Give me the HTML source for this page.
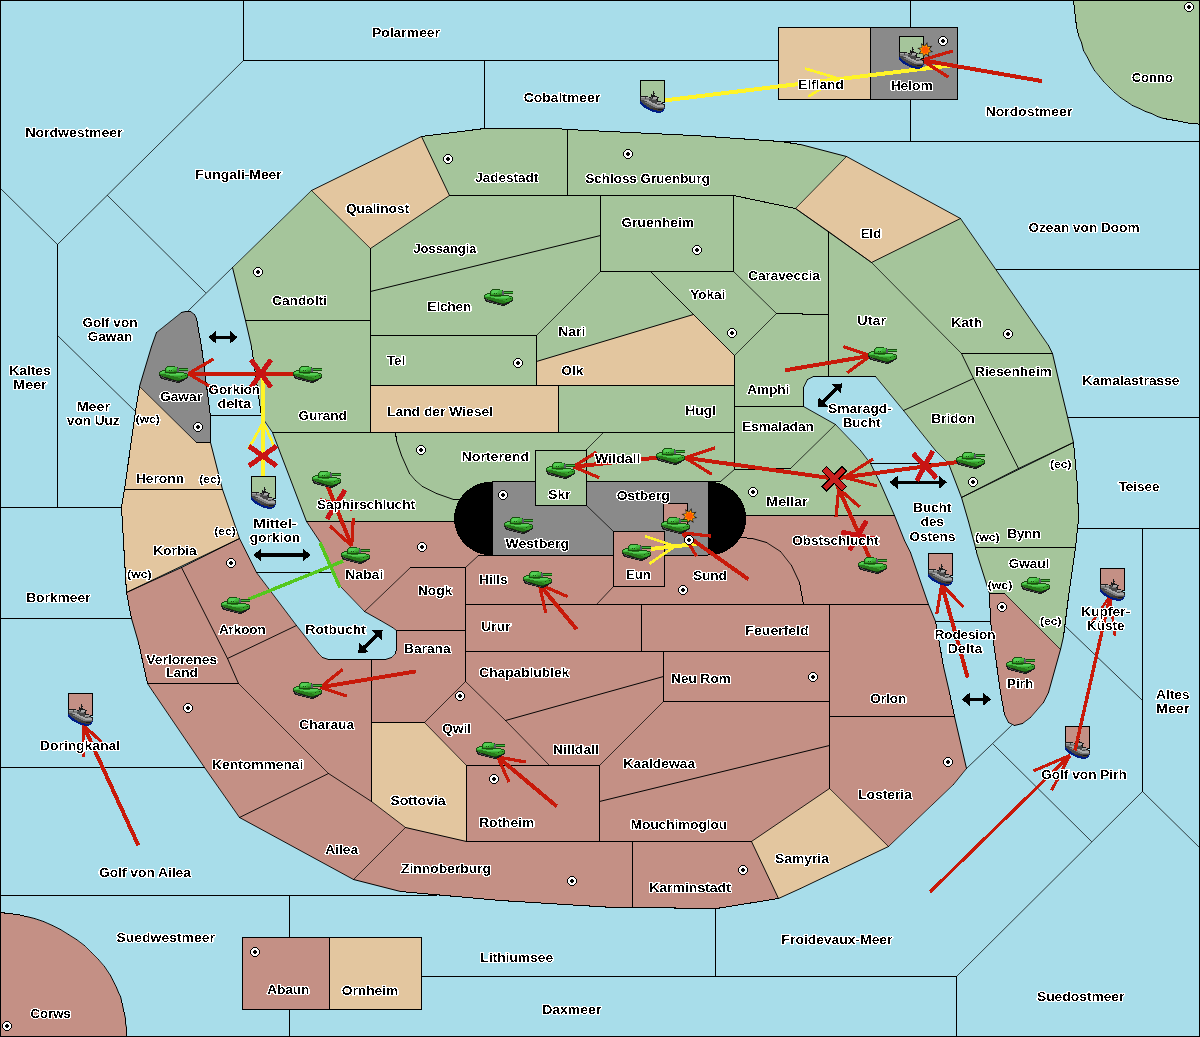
<!DOCTYPE html><html><head><meta charset="utf-8"><title>Map</title><style>html,body{margin:0;padding:0;background:#A8DDEA}svg{display:block}
.t{font-family:"Liberation Sans",sans-serif;font-weight:bold;font-size:12px;fill:#000;stroke:#fff;stroke-width:2.2px;stroke-linejoin:round;paint-order:stroke fill;text-anchor:middle}
.s{font-size:10px}
</style></head><body>
<svg width="1200" height="1037" viewBox="0 0 1200 1037">
<defs>
<g id="tank" shape-rendering="crispEdges"><path fill="#184d0f" d="M8,0h8v1h-8zM7,1h1v1h-1zM18,1h1v1h-1zM6,2h1v1h-1zM20,2h9v1h-9zM6,3h1v1h-1zM3,4h4v1h-4zM10,4h1v1h-1zM12,4h1v1h-1zM20,4h9v1h-9zM1,5h2v1h-2zM6,5h1v1h-1zM0,6h1v1h-1zM6,6h19v1h-19zM0,7h1v1h-1zM25,7h3v1h-3zM0,8h1v1h-1zM28,8h1v1h-1zM26,9h1v1h-1zM28,9h1v1h-1zM22,10h1v1h-1zM28,10h1v1h-1zM7,11h2v1h-2zM27,11h1v1h-1zM10,12h2v1h-2zM25,12h1v1h-1zM13,13h2v1h-2zM22,13h1v1h-1zM17,14h4v1h-4z"/><path fill="#41b93f" d="M8,1h1v1h-1zM15,1h3v1h-3zM7,2h1v1h-1zM14,2h4v1h-4zM7,3h1v1h-1zM13,3h4v1h-4zM20,3h9v1h-9zM7,4h3v1h-3zM11,4h1v1h-1zM13,4h1v1h-1zM1,6h1v1h-1zM5,6h1v1h-1zM1,7h9v1h-9zM7,8h3v1h-3zM24,8h4v1h-4zM11,9h12v1h-12z"/><path fill="#56cf56" d="M9,1h6v1h-6zM8,2h6v1h-6zM8,3h5v1h-5zM3,5h3v1h-3zM2,6h3v1h-3zM17,7h8v1h-8zM10,8h14v1h-14z"/><path fill="#5a5866" d="M18,2h2v1h-2zM18,3h2v1h-2zM18,4h2v1h-2zM18,5h2v1h-2z"/><path fill="#339c28" d="M17,3h1v1h-1zM14,4h4v1h-4zM7,5h8v1h-8zM23,9h3v1h-3zM27,9h1v1h-1zM15,10h7v1h-7zM23,10h5v1h-5zM19,11h8v1h-8zM21,12h4v1h-4z"/><path fill="#28791c" d="M15,5h3v1h-3zM10,7h7v1h-7zM1,8h6v1h-6zM2,9h9v1h-9zM4,10h11v1h-11zM9,11h10v1h-10zM12,12h9v1h-9zM15,13h7v1h-7z"/><path fill="#1a1a1a" d="M0,9h2v1h-2zM1,10h1v1h-1zM3,10h1v1h-1zM1,11h2v1h-2zM5,11h2v1h-2zM28,11h1v1h-1zM2,12h3v1h-3zM7,12h3v1h-3zM26,12h2v1h-2zM5,13h3v1h-3zM10,13h3v1h-3zM23,13h3v1h-3zM9,14h3v1h-3zM14,14h3v1h-3zM21,14h4v1h-4zM13,15h3v1h-3zM18,15h5v1h-5zM17,16h4v1h-4z"/><path fill="#4c4c4c" d="M2,10h1v1h-1zM3,11h2v1h-2zM5,12h2v1h-2zM8,13h2v1h-2zM12,14h2v1h-2zM16,15h2v1h-2z"/></g>
<g id="ship"><g transform="translate(0,11)"><g id="shipx" shape-rendering="crispEdges"><path fill="#1a1a1a" d="M13,0h1v1h-1zM13,1h1v1h-1zM13,2h2v1h-2zM11,3h1v1h-1zM13,3h1v1h-1zM11,4h4v1h-4zM0,5h8v1h-8zM11,5h6v1h-6zM0,6h1v1h-1zM9,6h2v1h-2zM12,6h1v1h-1zM17,6h2v1h-2zM0,7h1v1h-1zM17,7h1v1h-1zM0,8h1v1h-1zM16,8h2v1h-2zM0,9h1v1h-1zM17,9h1v1h-1zM17,10h4v1h-4zM22,11h1v1h-1zM21,12h2v1h-2zM23,13h2v1h-2zM24,14h1v1h-1zM24,15h1v1h-1zM18,18h5v1h-5z"/><path fill="#a8a8a8" d="M1,6h4v1h-4zM6,6h3v1h-3zM13,6h4v1h-4zM13,7h4v1h-4zM5,9h4v1h-4zM7,10h4v1h-4zM9,11h3v1h-3zM17,11h5v1h-5zM11,12h4v1h-4zM17,12h1v1h-1zM13,13h4v1h-4zM15,14h9v1h-9zM17,15h7v1h-7z"/><path fill="#494949" d="M5,6h1v1h-1zM5,7h1v1h-1zM10,7h3v1h-3zM9,8h3v1h-3zM1,9h3v1h-3zM9,9h8v1h-8zM1,10h6v1h-6zM11,10h6v1h-6zM2,11h3v1h-3zM12,11h5v1h-5zM3,12h4v1h-4zM15,12h2v1h-2zM4,13h5v1h-5zM17,13h3v1h-3zM6,14h5v1h-5zM7,15h6v1h-6zM9,16h6v1h-6zM24,16h1v1h-1zM17,17h7v1h-7z"/><path fill="#7e7e7e" d="M11,6h1v1h-1zM1,7h4v1h-4zM6,7h4v1h-4zM1,8h8v1h-8zM12,8h4v1h-4zM4,9h1v1h-1zM5,11h4v1h-4zM7,12h4v1h-4zM18,12h3v1h-3zM9,13h4v1h-4zM20,13h3v1h-3zM11,14h4v1h-4zM13,15h4v1h-4zM15,16h9v1h-9z"/><path fill="#001c84" d="M0,10h1v1h-1zM0,11h2v1h-2zM0,12h3v1h-3zM1,13h3v1h-3zM2,14h4v1h-4zM3,15h4v1h-4zM4,16h5v1h-5zM6,17h4v1h-4zM24,17h1v1h-1zM8,18h5v1h-5zM23,18h1v1h-1zM10,19h7v1h-7zM22,19h2v1h-2zM12,20h11v1h-11zM16,21h5v1h-5z"/><path fill="#40382f" d="M10,17h7v1h-7zM13,18h5v1h-5zM17,19h5v1h-5z"/></g></g></g>
<g id="sc" shape-rendering="crispEdges"><path fill="#000" d="M3,0h4v1h-4zM2,1h1v1h-1zM7,1h1v1h-1zM1,2h1v1h-1zM8,2h1v1h-1zM0,3h1v1h-1zM4,3h2v1h-2zM9,3h1v1h-1zM0,4h1v1h-1zM3,4h4v1h-4zM9,4h1v1h-1zM0,5h1v1h-1zM3,5h4v1h-4zM9,5h1v1h-1zM0,6h1v1h-1zM4,6h2v1h-2zM9,6h1v1h-1zM1,7h1v1h-1zM8,7h1v1h-1zM2,8h1v1h-1zM7,8h1v1h-1zM3,9h4v1h-4z"/><path fill="#fff" d="M3,1h4v1h-4zM2,2h6v1h-6zM1,3h3v1h-3zM6,3h3v1h-3zM1,4h2v1h-2zM7,4h2v1h-2zM1,5h2v1h-2zM7,5h2v1h-2zM1,6h3v1h-3zM6,6h3v1h-3zM2,7h6v1h-6zM3,8h4v1h-4z"/></g>
<g id="boom"><polygon points="2.1,-8.0 2.5,-3.4 7.1,-4.2 4.2,-0.6 8.0,2.1 3.4,2.5 4.2,7.1 0.6,4.2 -2.1,8.0 -2.5,3.4 -7.1,4.2 -4.2,0.6 -8.0,-2.1 -3.4,-2.5 -4.2,-7.1 -0.6,-4.2" fill="#111"/><polygon points="1.5,-6.0 2.2,-2.9 5.3,-3.2 3.6,-0.5 6.0,1.5 2.9,2.2 3.2,5.3 0.5,3.6 -1.5,6.0 -2.2,2.9 -5.3,3.2 -3.6,0.5 -6.0,-1.5 -2.9,-2.2 -3.2,-5.3 -0.5,-3.6" fill="#FFA200"/><polygon points="2.6,-3.8 2.7,-1.7 4.5,-0.8 3.1,0.7 3.8,2.6 1.7,2.7 0.8,4.5 -0.7,3.1 -2.6,3.8 -2.7,1.7 -4.5,0.8 -3.1,-0.7 -3.8,-2.6 -1.7,-2.7 -0.8,-4.5 0.7,-3.1" fill="#FF5A00"/></g>
<filter id="crisp" x="0" y="0" width="1200" height="1037" filterUnits="userSpaceOnUse" color-interpolation-filters="sRGB"><feComponentTransfer><feFuncR type="discrete" tableValues="0 0 0 0 1 1 1 1 1"/><feFuncG type="discrete" tableValues="0 0 0 0 1 1 1 1 1"/><feFuncB type="discrete" tableValues="0 0 0 0 1 1 1 1 1"/><feFuncA type="discrete" tableValues="0 1"/></feComponentTransfer></filter>
</defs>
<rect width="1200" height="1037" fill="#A8DDEA"/>
<g shape-rendering="crispEdges" stroke="none">
<polygon points="1073.5,0.0 1074.1,9.4 1075.1,18.4 1076.7,26.9 1078.7,35.1 1081.1,42.8 1083.9,50.1 1087.2,57.1 1090.8,63.8 1094.9,70.0 1099.2,76.0 1104.0,81.7 1109.0,87.1 1114.4,92.2 1120.0,97.0 1126.4,101.3 1132.8,105.1 1139.2,108.4 1145.5,111.4 1151.7,113.9 1157.8,116.2 1163.8,118.0 1169.6,119.6 1175.2,120.9 1180.6,122.0 1185.9,122.8 1190.8,123.5 1195.6,124.0 1200.0,124.3 1200.0,0.0" fill="#A5C59B"/>
<polygon points="0.0,912.5 8.6,913.3 17.4,914.7 26.2,916.5 34.9,919.0 43.6,922.0 52.2,925.6 60.6,929.7 68.8,934.4 76.7,939.7 84.3,945.6 91.4,952.0 98.1,959.1 104.3,966.7 110.0,975.0 112.5,979.3 114.7,983.6 116.7,987.9 118.4,992.2 120.0,996.5 121.4,1000.9 122.6,1005.2 123.6,1009.7 124.5,1014.1 125.2,1018.6 125.7,1023.1 126.2,1027.7 126.5,1032.3 126.7,1037.0 0.0,1037.0" fill="#C49085"/>
<polygon points="311.5,190.5 421.5,136.5 449.5,195.5 370.5,248.5" fill="#E3C69F"/>
<polygon points="311.5,190.5 370.5,248.5 370.5,320.5 245.5,320.5 232.5,267.5" fill="#A5C59B"/>
<polygon points="421.5,136.5 484.5,128.5 556.5,128.5 567.5,129.5 567.5,195.5 449.5,195.5" fill="#A5C59B"/>
<polygon points="567.5,129.5 693.5,135.5 780.5,141.5 800.5,144.5 846.5,156.5 795.5,208.5 733.5,195.5 567.5,195.5" fill="#A5C59B"/>
<polygon points="795.5,208.5 846.5,156.5 960.5,218.5 871.5,262.5" fill="#E3C69F"/>
<polygon points="449.5,195.5 600.5,195.5 600.5,235.5 370.5,291.5 370.5,248.5" fill="#A5C59B"/>
<polygon points="600.5,195.5 733.5,195.5 733.5,271.5 600.5,271.5" fill="#A5C59B"/>
<polygon points="370.5,291.5 600.5,235.5 600.5,271.5 536.5,335.5 370.5,335.5" fill="#A5C59B"/>
<polygon points="370.5,335.5 536.5,335.5 536.5,385.5 370.5,385.5" fill="#A5C59B"/>
<polygon points="536.5,335.5 600.5,271.5 650.5,271.5 693.5,314.5 536.5,361.5" fill="#A5C59B"/>
<polygon points="536.5,361.5 693.5,314.5 734.5,355.5 734.5,385.5 536.5,385.5" fill="#E3C69F"/>
<polygon points="650.5,271.5 733.5,271.5 776.5,313.5 734.5,355.5" fill="#A5C59B"/>
<polygon points="733.5,195.5 795.5,208.5 828.5,231.5 828.5,314.5 776.5,313.5 733.5,271.5" fill="#A5C59B"/>
<polygon points="828.5,231.5 871.5,262.5 961.5,353.5 973.5,378.5 903.5,410.5 875.5,376.5 828.5,376.5" fill="#A5C59B"/>
<polygon points="734.5,355.5 776.5,313.5 828.5,314.5 828.5,376.5 813.5,376.5 807.5,379.5 803.5,387.5 803.5,406.5 734.5,406.5" fill="#A5C59B"/>
<polygon points="734.5,406.5 803.5,406.5 835.5,424.5 790.5,468.5 734.5,469.5" fill="#A5C59B"/>
<polygon points="734.5,469.5 790.5,468.5 835.5,424.5 860.5,450.5 870.5,463.5 880.5,483.5 894.5,515.5 700.5,515.5 700.5,481.5 720.5,481.5" fill="#A5C59B"/>
<polygon points="558.5,385.5 734.5,385.5 734.5,432.5 558.5,432.5" fill="#A5C59B"/>
<polygon points="370.5,385.5 558.5,385.5 558.5,432.5 370.5,432.5" fill="#E3C69F"/>
<polygon points="245.5,320.5 370.5,320.5 370.5,432.5 272.5,432.5 261.5,416.5 251.5,346.5" fill="#A5C59B"/>
<polygon points="395.5,432.5 603.5,432.5 586.5,449.5 586.5,450.5 535.5,450.5 535.5,481.5 500.5,481.5 500.5,500.5 453.5,499.5 436.5,493.5 422.5,486.5 415.5,480.5 409.5,473.5 401.5,455.5 396.5,440.5" fill="#A5C59B"/>
<polygon points="603.5,432.5 734.5,432.5 734.5,469.5 720.5,481.5 586.5,481.5 586.5,449.5" fill="#A5C59B"/>
<polygon points="272.5,432.5 395.5,432.5 396.5,440.5 401.5,455.5 409.5,473.5 415.5,480.5 422.5,486.5 436.5,493.5 453.5,499.5 500.5,500.5 500.5,521.5 306.5,521.5 290.5,479.5" fill="#A5C59B"/>
<polygon points="871.5,262.5 960.5,218.5 1048.5,345.5 1052.5,353.5 961.5,353.5" fill="#A5C59B"/>
<polygon points="961.5,353.5 1052.5,353.5 1058.5,379.5 1066.5,412.5 1073.5,442.5 1018.5,468.5 973.5,378.5" fill="#A5C59B"/>
<polygon points="903.5,410.5 973.5,378.5 1018.5,468.5 961.5,497.5 948.5,463.5 935.5,450.5" fill="#A5C59B"/>
<polygon points="961.5,497.5 1073.5,442.5 1077.5,486.5 1078.5,519.5 1075.5,547.5 975.5,547.5 968.5,521.5" fill="#A5C59B"/>
<polygon points="975.5,547.5 1075.5,547.5 1068.5,596.5 1063.5,636.5 1060.5,649.5 1004.5,593.5 989.5,593.5 976.5,552.5" fill="#A5C59B"/>
<polygon points="989.5,593.5 1004.5,593.5 1060.5,649.5 1048.5,692.5 1043.5,702.5 1030.5,717.5 1022.5,723.5 1014.5,725.5 1008.5,722.5 1004.5,714.5 1000.5,692.5 995.5,656.5 990.5,621.5" fill="#C49085"/>
<polygon points="181.5,312.5 185.5,311.5 190.5,311.5 194.5,314.5 196.5,318.5 201.5,346.5 210.5,416.5 210.5,442.5 196.5,442.5 139.5,386.5 151.5,346.5 156.5,332.5" fill="#8A8A8A"/>
<polygon points="139.5,386.5 196.5,442.5 210.5,442.5 222.5,489.5 124.5,489.5 135.5,411.5" fill="#E3C69F"/>
<polygon points="124.5,489.5 222.5,489.5 239.5,538.5 126.5,592.5 121.5,507.5" fill="#E3C69F"/>
<polygon points="126.5,592.5 181.5,567.5 227.5,658.5 238.5,683.5 147.5,683.5 138.5,642.5 131.5,618.5" fill="#C49085"/>
<polygon points="181.5,567.5 239.5,538.5 256.5,572.5 296.5,625.5 227.5,658.5" fill="#C49085"/>
<polygon points="147.5,683.5 238.5,683.5 328.5,773.5 239.5,817.5 204.5,767.5 153.5,692.5" fill="#C49085"/>
<polygon points="227.5,658.5 296.5,625.5 318.5,653.5 322.5,657.5 328.5,659.5 371.5,659.5 371.5,801.5 328.5,773.5 238.5,683.5" fill="#C49085"/>
<polygon points="239.5,817.5 328.5,773.5 371.5,801.5 405.5,827.5 353.5,879.5" fill="#C49085"/>
<polygon points="306.5,521.5 500.5,521.5 500.5,555.5 478.5,555.5 465.5,567.5 410.5,567.5 364.5,611.5 340.5,586.5 320.5,542.5" fill="#C49085"/>
<polygon points="410.5,567.5 465.5,567.5 465.5,630.5 396.5,630.5 392.5,627.5 380.5,620.5 364.5,611.5" fill="#C49085"/>
<polygon points="396.5,630.5 465.5,630.5 465.5,681.5 424.5,722.5 371.5,722.5 371.5,659.5 385.5,659.5 391.5,657.5 395.5,653.5 396.5,648.5" fill="#C49085"/>
<polygon points="465.5,567.5 478.5,555.5 613.5,555.5 613.5,586.5 596.5,604.5 465.5,604.5" fill="#C49085"/>
<polygon points="465.5,604.5 641.5,604.5 641.5,651.5 465.5,651.5" fill="#C49085"/>
<polygon points="465.5,651.5 663.5,651.5 663.5,676.5 505.5,720.5 465.5,681.5" fill="#C49085"/>
<polygon points="465.5,681.5 505.5,720.5 549.5,765.5 466.5,765.5 424.5,722.5" fill="#C49085"/>
<polygon points="505.5,720.5 663.5,676.5 663.5,701.5 599.5,765.5 549.5,765.5" fill="#C49085"/>
<polygon points="613.5,586.5 664.5,586.5 664.5,540.5 741.5,537.5 752.5,538.5 766.5,542.5 780.5,551.5 791.5,565.5 799.5,582.5 803.5,604.5 596.5,604.5" fill="#C49085"/>
<polygon points="700.5,515.5 894.5,515.5 904.5,540.5 910.5,552.5 928.5,604.5 803.5,604.5 799.5,582.5 791.5,565.5 780.5,551.5 766.5,542.5 752.5,538.5 741.5,537.5 700.5,537.5" fill="#C49085"/>
<polygon points="641.5,604.5 829.5,604.5 829.5,651.5 641.5,651.5" fill="#C49085"/>
<polygon points="663.5,651.5 829.5,651.5 829.5,701.5 663.5,701.5" fill="#C49085"/>
<polygon points="829.5,604.5 928.5,604.5 935.5,621.5 943.5,666.5 949.5,692.5 954.5,716.5 829.5,716.5" fill="#C49085"/>
<polygon points="829.5,716.5 954.5,716.5 966.5,768.5 953.5,784.5 888.5,846.5 829.5,788.5" fill="#C49085"/>
<polygon points="663.5,701.5 829.5,701.5 829.5,745.5 599.5,801.5 599.5,765.5" fill="#C49085"/>
<polygon points="599.5,801.5 829.5,745.5 829.5,788.5 751.5,841.5 599.5,841.5" fill="#C49085"/>
<polygon points="751.5,841.5 829.5,788.5 888.5,846.5 800.5,888.5 778.5,898.5" fill="#E3C69F"/>
<polygon points="632.5,841.5 751.5,841.5 778.5,898.5 716.5,908.5 632.5,907.5" fill="#C49085"/>
<polygon points="353.5,879.5 405.5,827.5 466.5,841.5 632.5,841.5 632.5,907.5 613.5,907.5 500.5,900.5 400.5,891.5" fill="#C49085"/>
<polygon points="466.5,765.5 599.5,765.5 599.5,841.5 466.5,841.5" fill="#C49085"/>
<polygon points="371.5,722.5 424.5,722.5 466.5,765.5 466.5,841.5 405.5,827.5 371.5,801.5" fill="#E3C69F"/>
<polygon points="778.5,27.5 870.5,27.5 870.5,99.5 778.5,99.5" fill="#E3C69F"/>
<polygon points="870.5,27.5 957.5,27.5 957.5,99.5 870.5,99.5" fill="#8A8A8A"/>
<polygon points="242.5,937.5 329.5,937.5 329.5,1009.5 242.5,1009.5" fill="#C49085"/>
<polygon points="329.5,937.5 421.5,937.5 421.5,1009.5 329.5,1009.5" fill="#E3C69F"/>
</g>
<g shape-rendering="crispEdges" stroke="#000" fill="none" stroke-linecap="square">
<path stroke-width="0.72" d="M107.5,195.5L205.5,292.5M956.5,976.5L1142.5,791.5M993.5,744.5L1091.5,841.5M536.5,335.5L600.5,271.5M650.5,271.5L693.5,314.5M693.5,314.5L734.5,355.5M734.5,355.5L776.5,313.5M650.5,271.5L734.5,355.5M586.5,449.5L603.5,432.5M935.5,450.5L948.5,463.5M1004.5,593.5L1060.5,649.5M238.5,683.5L328.5,773.5M318.5,653.5L322.5,657.5M353.5,879.5L405.5,827.5M424.5,722.5L465.5,681.5M391.5,657.5L395.5,653.5M599.5,765.5L663.5,701.5M1103.5,81.5L1109.5,87.5M1109.5,87.5L1114.5,92.5M84.5,945.5L91.5,952.5M91.5,952.5L98.5,959.5"/>
<path stroke-width="0.73" d="M57.5,244.5L243.5,60.5M0.5,188.5L57.5,244.5M57.5,335.5L135.5,411.5M187.5,311.5L232.5,267.5M1142.5,791.5L1200.5,848.5M311.5,190.5L370.5,248.5M232.5,267.5L311.5,190.5M795.5,208.5L846.5,156.5M733.5,271.5L776.5,313.5M871.5,262.5L961.5,353.5M790.5,468.5L835.5,424.5M139.5,386.5L196.5,442.5M465.5,681.5L505.5,720.5M505.5,720.5L549.5,765.5M424.5,722.5L466.5,765.5M829.5,788.5L888.5,846.5"/>
<path stroke-width="0.74" d="M1065.5,626.5L1142.5,700.5M966.5,768.5L1011.5,725.5M835.5,424.5L860.5,450.5M364.5,611.5L410.5,567.5M340.5,586.5L364.5,611.5M596.5,604.5L613.5,586.5M888.5,846.5L953.5,784.5"/>
<path stroke-width="0.75" d="M465.5,567.5L478.5,555.5"/>
<path stroke-width="0.77" d="M720.5,481.5L734.5,469.5M415.5,480.5L422.5,486.5M409.5,473.5L415.5,480.5M1030.5,717.5L1043.5,702.5M98.5,959.5L104.5,966.5"/>
<path stroke-width="0.78" d="M1094.5,70.5L1099.5,76.5M1114.5,92.5L1120.5,97.5"/>
<path stroke-width="0.79" d="M875.5,376.5L903.5,410.5M953.5,784.5L966.5,768.5"/>
<path stroke-width="0.8" d="M903.5,410.5L935.5,450.5M156.5,332.5L181.5,312.5M296.5,625.5L318.5,653.5M780.5,551.5L791.5,565.5M1099.5,76.5L1103.5,81.5"/>
<path stroke-width="0.81" d="M860.5,450.5L870.5,463.5M256.5,572.5L296.5,625.5M371.5,801.5L405.5,827.5"/>
<path stroke-width="0.82" d="M1022.5,723.5L1030.5,717.5M190.5,311.5L194.5,314.5M392.5,627.5L396.5,630.5M76.5,939.5L84.5,945.5"/>
<path stroke-width="0.83" d="M795.5,208.5L871.5,262.5M828.5,231.5L871.5,262.5"/>
<path stroke-width="0.84" d="M795.5,208.5L828.5,231.5M261.5,416.5L272.5,432.5M960.5,218.5L1048.5,345.5M204.5,767.5L239.5,817.5M153.5,692.5L204.5,767.5M751.5,841.5L829.5,788.5"/>
<path stroke-width="0.85" d="M370.5,248.5L449.5,195.5M147.5,683.5L153.5,692.5M328.5,773.5L371.5,801.5M306.5,521.5L320.5,542.5M1120.5,97.5L1126.5,101.5M1126.5,101.5L1132.5,105.5M104.5,966.5L110.5,975.5"/>
<path stroke-width="0.86" d="M766.5,542.5L780.5,551.5M60.5,929.5L68.5,934.5M68.5,934.5L76.5,939.5"/>
<path stroke-width="0.88" d="M380.5,620.5L392.5,627.5"/>
<path stroke-width="0.89" d="M803.5,406.5L835.5,424.5M364.5,611.5L380.5,620.5M1083.5,50.5L1087.5,57.5M1090.5,63.5L1094.5,70.5"/>
<path stroke-width="0.9" d="M846.5,156.5L960.5,218.5M239.5,817.5L353.5,879.5"/>
<path stroke-width="0.91" d="M871.5,262.5L960.5,218.5M807.5,379.5L813.5,376.5M803.5,387.5L807.5,379.5M870.5,463.5L880.5,483.5M422.5,486.5L436.5,493.5M1048.5,345.5L1052.5,353.5M973.5,378.5L1018.5,468.5M961.5,497.5L1018.5,468.5M1043.5,702.5L1048.5,692.5M1008.5,722.5L1014.5,725.5M1004.5,714.5L1008.5,722.5M194.5,314.5L196.5,318.5M181.5,567.5L227.5,658.5M181.5,567.5L239.5,538.5M239.5,538.5L256.5,572.5M239.5,817.5L328.5,773.5M904.5,540.5L910.5,552.5M1087.5,57.5L1090.5,63.5M1139.5,108.5L1145.5,111.5M1151.5,113.5L1157.5,116.5M52.5,925.5L60.5,929.5M110.5,975.5L112.5,979.5M112.5,979.5L114.5,983.5M114.5,983.5L116.5,987.5M118.5,992.5L120.5,996.5"/>
<path stroke-width="0.92" d="M311.5,190.5L421.5,136.5M421.5,136.5L449.5,195.5M961.5,353.5L973.5,378.5M1018.5,468.5L1073.5,442.5M961.5,497.5L1073.5,442.5M126.5,592.5L239.5,538.5M227.5,658.5L296.5,625.5M791.5,565.5L799.5,582.5M800.5,888.5L888.5,846.5M751.5,841.5L778.5,898.5"/>
<path stroke-width="0.93" d="M903.5,410.5L973.5,378.5M880.5,483.5L894.5,515.5M401.5,455.5L409.5,473.5M126.5,592.5L181.5,567.5M227.5,658.5L238.5,683.5M320.5,542.5L340.5,586.5M778.5,898.5L800.5,888.5M43.5,921.5L52.5,925.5"/>
<path stroke-width="0.94" d="M928.5,604.5L935.5,621.5M1078.5,35.5L1081.5,42.5M1132.5,105.5L1139.5,108.5"/>
<path stroke-width="0.95" d="M290.5,479.5L306.5,521.5M272.5,432.5L290.5,479.5M948.5,463.5L961.5,497.5M894.5,515.5L904.5,540.5M116.5,987.5L118.5,992.5"/>
<path stroke-width="0.96" d="M436.5,493.5L453.5,499.5M151.5,346.5L156.5,332.5M222.5,489.5L239.5,538.5M910.5,552.5L928.5,604.5"/>
<path stroke-width="0.97" d="M396.5,440.5L401.5,455.5M976.5,552.5L989.5,593.5M322.5,657.5L328.5,659.5M385.5,659.5L391.5,657.5M1145.5,111.5L1151.5,113.5M1157.5,116.5L1163.5,118.5M34.5,918.5L43.5,921.5"/>
<path stroke-width="0.98" d="M536.5,361.5L693.5,314.5M968.5,521.5L975.5,547.5M961.5,497.5L968.5,521.5M1048.5,692.5L1060.5,649.5M139.5,386.5L151.5,346.5M131.5,618.5L138.5,642.5M505.5,720.5L663.5,676.5M752.5,538.5L766.5,542.5"/>
<path stroke-width="0.99" d="M232.5,267.5L245.5,320.5M800.5,144.5L846.5,156.5M370.5,291.5L600.5,235.5M245.5,320.5L251.5,346.5M1052.5,353.5L1058.5,379.5M1058.5,379.5L1066.5,412.5M1066.5,412.5L1073.5,442.5M1060.5,649.5L1063.5,636.5M1014.5,725.5L1022.5,723.5M181.5,312.5L185.5,311.5M210.5,442.5L222.5,489.5M943.5,666.5L949.5,692.5M954.5,716.5L966.5,768.5M599.5,801.5L829.5,745.5M405.5,827.5L466.5,841.5M353.5,879.5L400.5,891.5M1081.5,42.5L1083.5,50.5M26.5,916.5L34.5,918.5M120.5,996.5L121.5,1000.5M122.5,1005.5L123.5,1009.5M124.5,1014.5L125.5,1018.5M125.5,1023.5L126.5,1027.5"/>
<path stroke-width="1" d="M733.5,195.5L795.5,208.5M975.5,547.5L976.5,552.5M1000.5,692.5L1004.5,714.5M196.5,318.5L201.5,346.5M138.5,642.5L147.5,683.5M126.5,592.5L131.5,618.5M395.5,653.5L396.5,648.5M799.5,582.5L803.5,604.5M935.5,621.5L943.5,666.5M949.5,692.5L954.5,716.5M1076.5,26.5L1078.5,35.5M1175.5,120.5L1180.5,121.5M1180.5,121.5L1185.5,122.5M1185.5,122.5L1190.5,123.5M1195.5,123.5L1200.5,124.5M17.5,914.5L26.5,916.5M121.5,1000.5L122.5,1005.5M123.5,1009.5L124.5,1014.5"/>
<path stroke-width="1.01" d="M421.5,136.5L484.5,128.5M780.5,141.5L800.5,144.5M251.5,346.5L261.5,416.5M395.5,432.5L396.5,440.5M1075.5,547.5L1078.5,519.5M1068.5,596.5L1075.5,547.5M1063.5,636.5L1068.5,596.5M995.5,656.5L1000.5,692.5M990.5,621.5L995.5,656.5M201.5,346.5L210.5,416.5M124.5,489.5L135.5,411.5M135.5,411.5L139.5,386.5M121.5,507.5L124.5,489.5M716.5,908.5L778.5,898.5M1073.5,0.5L1074.5,9.5M1074.5,9.5L1075.5,18.5M1075.5,18.5L1076.5,26.5M1163.5,118.5L1169.5,119.5M1169.5,119.5L1175.5,120.5M0.5,912.5L8.5,913.5M8.5,913.5L17.5,914.5"/>
<path stroke-width="1.02" d="M243.5,0.5L243.5,60.5M243.5,60.5L778.5,60.5M57.5,244.5L57.5,507.5M0.5,507.5L121.5,507.5M210.5,415.5L261.5,415.5M256.5,572.5L334.5,572.5M0.5,618.5L131.5,618.5M484.5,60.5L484.5,128.5M910.5,0.5L910.5,27.5M910.5,99.5L910.5,141.5M780.5,141.5L1200.5,141.5M996.5,269.5L1200.5,269.5M1068.5,417.5L1200.5,417.5M1078.5,528.5L1200.5,528.5M1142.5,528.5L1142.5,791.5M870.5,463.5L948.5,463.5M935.5,621.5L990.5,621.5M0.5,767.5L204.5,767.5M0.5,895.5L436.5,895.5M289.5,895.5L289.5,937.5M289.5,1009.5L289.5,1037.5M421.5,976.5L956.5,976.5M715.5,908.5L715.5,976.5M956.5,976.5L956.5,1037.5M370.5,248.5L370.5,320.5M245.5,320.5L370.5,320.5M484.5,128.5L556.5,128.5M556.5,128.5L567.5,129.5M567.5,129.5L567.5,195.5M449.5,195.5L567.5,195.5M567.5,129.5L693.5,135.5M693.5,135.5L780.5,141.5M567.5,195.5L733.5,195.5M449.5,195.5L600.5,195.5M600.5,195.5L600.5,235.5M370.5,248.5L370.5,291.5M600.5,195.5L733.5,195.5M733.5,195.5L733.5,271.5M600.5,271.5L733.5,271.5M600.5,195.5L600.5,271.5M600.5,235.5L600.5,271.5M370.5,335.5L536.5,335.5M370.5,291.5L370.5,335.5M536.5,335.5L536.5,385.5M370.5,385.5L536.5,385.5M370.5,335.5L370.5,385.5M600.5,271.5L650.5,271.5M536.5,335.5L536.5,361.5M734.5,355.5L734.5,385.5M536.5,385.5L734.5,385.5M536.5,361.5L536.5,385.5M650.5,271.5L733.5,271.5M828.5,231.5L828.5,314.5M776.5,313.5L828.5,314.5M828.5,376.5L875.5,376.5M828.5,231.5L828.5,376.5M828.5,314.5L828.5,376.5M813.5,376.5L828.5,376.5M803.5,387.5L803.5,406.5M734.5,406.5L803.5,406.5M734.5,355.5L734.5,406.5M734.5,469.5L790.5,468.5M734.5,406.5L734.5,469.5M700.5,515.5L894.5,515.5M700.5,481.5L700.5,515.5M700.5,481.5L720.5,481.5M558.5,385.5L734.5,385.5M734.5,385.5L734.5,432.5M558.5,432.5L734.5,432.5M558.5,385.5L558.5,432.5M370.5,385.5L558.5,385.5M370.5,432.5L558.5,432.5M370.5,385.5L370.5,432.5M370.5,320.5L370.5,432.5M272.5,432.5L370.5,432.5M395.5,432.5L603.5,432.5M586.5,449.5L586.5,450.5M535.5,450.5L586.5,450.5M535.5,450.5L535.5,481.5M500.5,481.5L535.5,481.5M500.5,481.5L500.5,500.5M453.5,499.5L500.5,500.5M603.5,432.5L734.5,432.5M734.5,432.5L734.5,469.5M586.5,481.5L720.5,481.5M586.5,449.5L586.5,481.5M272.5,432.5L395.5,432.5M500.5,500.5L500.5,521.5M306.5,521.5L500.5,521.5M961.5,353.5L1052.5,353.5M1073.5,442.5L1077.5,486.5M1077.5,486.5L1078.5,519.5M975.5,547.5L1075.5,547.5M989.5,593.5L1004.5,593.5M989.5,593.5L990.5,621.5M185.5,311.5L190.5,311.5M210.5,416.5L210.5,442.5M196.5,442.5L210.5,442.5M124.5,489.5L222.5,489.5M121.5,507.5L126.5,592.5M147.5,683.5L238.5,683.5M328.5,659.5L371.5,659.5M371.5,659.5L371.5,801.5M500.5,521.5L500.5,555.5M478.5,555.5L500.5,555.5M410.5,567.5L465.5,567.5M465.5,567.5L465.5,630.5M396.5,630.5L465.5,630.5M465.5,630.5L465.5,681.5M371.5,722.5L424.5,722.5M371.5,659.5L371.5,722.5M371.5,659.5L385.5,659.5M396.5,630.5L396.5,648.5M478.5,555.5L613.5,555.5M613.5,555.5L613.5,586.5M465.5,604.5L596.5,604.5M465.5,567.5L465.5,604.5M465.5,604.5L641.5,604.5M641.5,604.5L641.5,651.5M465.5,651.5L641.5,651.5M465.5,604.5L465.5,651.5M465.5,651.5L663.5,651.5M663.5,651.5L663.5,676.5M465.5,651.5L465.5,681.5M466.5,765.5L549.5,765.5M663.5,676.5L663.5,701.5M549.5,765.5L599.5,765.5M613.5,586.5L664.5,586.5M664.5,540.5L664.5,586.5M664.5,540.5L741.5,537.5M741.5,537.5L752.5,538.5M596.5,604.5L803.5,604.5M803.5,604.5L928.5,604.5M700.5,537.5L741.5,537.5M700.5,515.5L700.5,537.5M641.5,604.5L829.5,604.5M829.5,604.5L829.5,651.5M641.5,651.5L829.5,651.5M663.5,651.5L829.5,651.5M829.5,651.5L829.5,701.5M663.5,701.5L829.5,701.5M663.5,651.5L663.5,701.5M829.5,604.5L928.5,604.5M829.5,716.5L954.5,716.5M829.5,604.5L829.5,716.5M829.5,716.5L829.5,788.5M829.5,701.5L829.5,745.5M599.5,765.5L599.5,801.5M829.5,745.5L829.5,788.5M599.5,841.5L751.5,841.5M599.5,801.5L599.5,841.5M632.5,841.5L751.5,841.5M632.5,907.5L716.5,908.5M632.5,841.5L632.5,907.5M466.5,841.5L632.5,841.5M613.5,907.5L632.5,907.5M500.5,900.5L613.5,907.5M400.5,891.5L500.5,900.5M466.5,765.5L599.5,765.5M599.5,765.5L599.5,841.5M466.5,841.5L599.5,841.5M466.5,765.5L466.5,841.5M371.5,722.5L371.5,801.5M778.5,27.5L870.5,27.5M870.5,27.5L870.5,99.5M778.5,99.5L870.5,99.5M778.5,27.5L778.5,99.5M870.5,27.5L957.5,27.5M957.5,27.5L957.5,99.5M870.5,99.5L957.5,99.5M242.5,937.5L329.5,937.5M329.5,937.5L329.5,1009.5M242.5,1009.5L329.5,1009.5M242.5,937.5L242.5,1009.5M329.5,937.5L421.5,937.5M421.5,937.5L421.5,1009.5M329.5,1009.5L421.5,1009.5M1190.5,123.5L1195.5,123.5M125.5,1018.5L125.5,1023.5M126.5,1027.5L126.5,1032.5M126.5,1032.5L126.5,1037.5M0.5,0.5L1199.5,0.5M1199.5,0.5L1199.5,1036.5M0.5,1036.5L1199.5,1036.5M0.5,0.5L0.5,1036.5"/>
</g>
<g shape-rendering="crispEdges" stroke="none">
<polygon points="492.5,481.5 488.5,481.7 484.5,482.3 480.6,483.3 476.9,484.7 473.3,486.5 469.9,488.6 466.8,491.0 464.0,493.7 461.4,496.8 459.2,500.0 457.4,503.5 456.0,507.1 454.9,510.8 454.3,514.6 454.1,518.5 454.3,522.4 454.9,526.2 456.0,529.9 457.4,533.5 459.2,537.0 461.4,540.2 464.0,543.3 466.8,546.0 469.9,548.4 473.3,550.5 476.9,552.3 480.6,553.7 484.5,554.7 488.5,555.3 492.5,555.5" fill="#000"/>
<polygon points="707.5,481.5 711.5,481.7 715.5,482.3 719.4,483.3 723.2,484.7 726.8,486.5 730.2,488.6 733.3,491.0 736.2,493.7 738.7,496.8 740.9,500.0 742.8,503.5 744.2,507.1 745.3,510.8 745.9,514.6 746.1,518.5 745.9,522.4 745.3,526.2 744.2,529.9 742.8,533.5 740.9,537.0 738.7,540.2 736.2,543.3 733.3,546.0 730.2,548.4 726.8,550.5 723.2,552.3 719.4,553.7 715.5,554.7 711.5,555.3 707.5,555.5" fill="#000"/>
<rect x="492.5" y="481.5" width="215" height="74" fill="#8A8A8A"/>
<rect x="535.5" y="450.5" width="51" height="55" fill="#A5C59B"/>
<rect x="613.5" y="531.5" width="51" height="55" fill="#C49085"/>
</g>
<g shape-rendering="crispEdges" stroke="#000" fill="none" stroke-linecap="square">
<path stroke-width="0.73" d="M586.5,505.5L613.5,531.5"/>
<path stroke-width="1.02" d="M492.5,481.5L535.5,481.5M586.5,481.5L707.5,481.5M492.5,555.5L613.5,555.5M664.5,555.5L707.5,555.5M535.5,450.5L586.5,450.5M586.5,450.5L586.5,505.5M535.5,505.5L586.5,505.5M535.5,450.5L535.5,505.5M613.5,531.5L664.5,531.5M664.5,531.5L664.5,586.5M613.5,586.5L664.5,586.5M613.5,531.5L613.5,586.5"/>
</g>
<g shape-rendering="crispEdges">
<line x1="216.3" y1="337.3" x2="229.7" y2="337.3" stroke="#000" stroke-width="3.6"/><polygon points="208.3,337.3 216.3,343.9 216.3,330.7" fill="#000"/><polygon points="237.7,337.3 229.7,343.9 229.7,330.7" fill="#000"/>
<line x1="261.3" y1="555.0" x2="302.7" y2="555.0" stroke="#000" stroke-width="3.6"/><polygon points="253.3,555.0 261.3,561.6 261.3,548.4" fill="#000"/><polygon points="310.7,555.0 302.7,561.6 302.7,548.4" fill="#000"/>
<line x1="363.9" y1="647.6" x2="376.9" y2="635.1" stroke="#000" stroke-width="3.6"/><polygon points="358.1,653.1 368.4,652.3 359.3,642.8" fill="#000"/><polygon points="382.7,629.6 381.5,639.9 372.4,630.4" fill="#000"/>
<line x1="823.3" y1="401.8" x2="836.3" y2="389.0" stroke="#000" stroke-width="3.6"/><polygon points="817.6,407.4 827.9,406.5 818.7,397.1" fill="#000"/><polygon points="842.0,383.4 840.9,393.7 831.7,384.3" fill="#000"/>
<line x1="897.5" y1="482.3" x2="938.9" y2="482.3" stroke="#000" stroke-width="3.6"/><polygon points="889.5,482.3 897.5,488.9 897.5,475.7" fill="#000"/><polygon points="946.9,482.3 938.9,488.9 938.9,475.7" fill="#000"/>
<line x1="969.7" y1="699.3" x2="983.0" y2="699.3" stroke="#000" stroke-width="3.6"/><polygon points="961.7,699.3 969.7,705.9 969.7,692.7" fill="#000"/><polygon points="991.0,699.3 983.0,705.9 983.0,692.7" fill="#000"/>
<line x1="664.0" y1="100.5" x2="950.0" y2="65.5" stroke="#FFF428" stroke-width="4.0"/><line x1="837.7" y1="78.3" x2="805.0" y2="68.5" stroke="#FFF428" stroke-width="2.7"/><line x1="837.7" y1="78.3" x2="808.5" y2="96.5" stroke="#FFF428" stroke-width="2.7"/>
<line x1="263.3" y1="476.0" x2="263.3" y2="373.0" stroke="#FFF428" stroke-width="4.0"/><line x1="263.3" y1="422.0" x2="248.3" y2="449.3" stroke="#FFF428" stroke-width="2.7"/><line x1="263.3" y1="422.0" x2="275.5" y2="449.3" stroke="#FFF428" stroke-width="2.7"/>
<line x1="650.6" y1="549.0" x2="698.6" y2="543.6" stroke="#FFF428" stroke-width="4.0"/><line x1="675.0" y1="546.2" x2="645.2" y2="536.2" stroke="#FFF428" stroke-width="2.7"/><line x1="675.0" y1="546.2" x2="649.3" y2="563.8" stroke="#FFF428" stroke-width="2.7"/>
<line x1="248.3" y1="599.3" x2="343.3" y2="561.0" stroke="#55C81E" stroke-width="3.4"/><line x1="320.0" y1="542.4" x2="340.0" y2="587.6" stroke="#55C81E" stroke-width="3.4"/>
<line x1="1041.8" y1="81.1" x2="921.7" y2="60.1" stroke="#C81A0A" stroke-width="4.0"/><line x1="921.7" y1="60.1" x2="952.7" y2="51.0" stroke="#C81A0A" stroke-width="3.2"/><line x1="921.7" y1="60.1" x2="948.5" y2="77.2" stroke="#C81A0A" stroke-width="3.2"/>
<line x1="307.0" y1="373.7" x2="188.3" y2="373.7" stroke="#C81A0A" stroke-width="4.0"/><line x1="188.3" y1="373.7" x2="213.5" y2="359.0" stroke="#C81A0A" stroke-width="3.2"/><line x1="188.3" y1="373.7" x2="213.5" y2="388.5" stroke="#C81A0A" stroke-width="3.2"/>
<line x1="271.0" y1="387.3" x2="251.0" y2="359.7" stroke="#C81414" stroke-width="5.0"/><line x1="271.0" y1="359.7" x2="251.0" y2="387.3" stroke="#C81414" stroke-width="5.0"/>
<line x1="276.5" y1="446.0" x2="248.9" y2="466.0" stroke="#C81414" stroke-width="5.0"/><line x1="248.9" y1="446.0" x2="276.5" y2="466.0" stroke="#C81414" stroke-width="5.0"/>
<line x1="326.0" y1="482.0" x2="351.7" y2="546.0" stroke="#C81A0A" stroke-width="4.0"/><line x1="351.7" y1="546.0" x2="330.0" y2="526.0" stroke="#C81A0A" stroke-width="3.2"/><line x1="351.7" y1="546.0" x2="353.3" y2="517.7" stroke="#C81A0A" stroke-width="3.2"/>
<line x1="345.0" y1="490.1" x2="327.0" y2="518.9" stroke="#C81414" stroke-width="5.0"/><line x1="319.5" y1="500.4" x2="352.5" y2="508.6" stroke="#C81414" stroke-width="5.0"/>
<line x1="415.7" y1="671.4" x2="320.5" y2="687.2" stroke="#C81A0A" stroke-width="4.0"/><line x1="320.5" y1="687.2" x2="342.6" y2="669.4" stroke="#C81A0A" stroke-width="3.2"/><line x1="320.5" y1="687.2" x2="346.8" y2="696.0" stroke="#C81A0A" stroke-width="3.2"/>
<line x1="576.7" y1="629.3" x2="539.3" y2="584.3" stroke="#C81A0A" stroke-width="4.0"/><line x1="539.3" y1="584.3" x2="567.7" y2="596.7" stroke="#C81A0A" stroke-width="3.2"/><line x1="539.3" y1="584.3" x2="545.7" y2="612.7" stroke="#C81A0A" stroke-width="3.2"/>
<line x1="556.7" y1="806.3" x2="497.7" y2="757.0" stroke="#C81A0A" stroke-width="4.0"/><line x1="497.7" y1="757.0" x2="525.7" y2="762.0" stroke="#C81A0A" stroke-width="3.2"/><line x1="497.7" y1="757.0" x2="509.0" y2="782.0" stroke="#C81A0A" stroke-width="3.2"/>
<line x1="138.3" y1="845.3" x2="83.3" y2="725.3" stroke="#C81A0A" stroke-width="4.0"/><line x1="83.3" y1="725.3" x2="83.3" y2="757.0" stroke="#C81A0A" stroke-width="3.2"/><line x1="83.3" y1="725.3" x2="101.7" y2="742.0" stroke="#C81A0A" stroke-width="3.2"/>
<line x1="668.0" y1="456.5" x2="573.3" y2="466.7" stroke="#C81A0A" stroke-width="4.0"/><line x1="573.3" y1="466.7" x2="596.7" y2="452.0" stroke="#C81A0A" stroke-width="3.2"/><line x1="573.3" y1="466.7" x2="599.3" y2="477.7" stroke="#C81A0A" stroke-width="3.2"/>
<line x1="834.1" y1="478.6" x2="685.0" y2="457.7" stroke="#C81A0A" stroke-width="4.0"/><line x1="685.0" y1="457.7" x2="715.0" y2="447.7" stroke="#C81A0A" stroke-width="3.2"/><line x1="685.0" y1="457.7" x2="711.7" y2="474.3" stroke="#C81A0A" stroke-width="3.2"/>
<line x1="748.5" y1="579.4" x2="682.6" y2="532.8" stroke="#C81A0A" stroke-width="4.0"/><line x1="682.6" y1="532.8" x2="711.4" y2="536.2" stroke="#C81A0A" stroke-width="3.2"/><line x1="682.6" y1="532.8" x2="696.5" y2="556.4" stroke="#C81A0A" stroke-width="3.2"/>
<line x1="785.0" y1="370.3" x2="870.3" y2="355.8" stroke="#C81A0A" stroke-width="4.0"/><line x1="870.3" y1="355.8" x2="843.2" y2="346.5" stroke="#C81A0A" stroke-width="3.2"/><line x1="870.3" y1="355.8" x2="847.2" y2="372.8" stroke="#C81A0A" stroke-width="3.2"/>
<line x1="968.0" y1="460.6" x2="844.2" y2="477.3" stroke="#C81A0A" stroke-width="4.0"/><line x1="844.2" y1="477.3" x2="873.1" y2="459.0" stroke="#C81A0A" stroke-width="3.2"/><line x1="844.2" y1="477.3" x2="876.8" y2="485.9" stroke="#C81A0A" stroke-width="3.2"/>
<line x1="936.5" y1="478.1" x2="913.1" y2="453.5" stroke="#C81414" stroke-width="5.0"/><line x1="932.9" y1="450.8" x2="916.7" y2="480.8" stroke="#C81414" stroke-width="5.0"/>
<line x1="871.5" y1="562.2" x2="838.7" y2="488.7" stroke="#C81A0A" stroke-width="4.0"/><line x1="838.7" y1="488.7" x2="836.0" y2="517.2" stroke="#C81A0A" stroke-width="3.2"/><line x1="838.7" y1="488.7" x2="859.8" y2="507.0" stroke="#C81A0A" stroke-width="3.2"/>
<line x1="866.5" y1="520.8" x2="849.5" y2="550.2" stroke="#C81414" stroke-width="5.0"/><line x1="841.4" y1="532.0" x2="874.6" y2="539.0" stroke="#C81414" stroke-width="5.0"/>
<line x1="967.7" y1="677.7" x2="941.7" y2="584.3" stroke="#C81A0A" stroke-width="4.0"/><line x1="941.7" y1="584.3" x2="936.7" y2="614.3" stroke="#C81A0A" stroke-width="3.2"/><line x1="941.7" y1="584.3" x2="963.3" y2="607.0" stroke="#C81A0A" stroke-width="3.2"/>
<line x1="930.0" y1="892.0" x2="1070.0" y2="755.3" stroke="#C81A0A" stroke-width="3.2"/><line x1="1070.0" y1="755.3" x2="1033.3" y2="771.0" stroke="#C81A0A" stroke-width="3.0"/><line x1="1070.0" y1="755.3" x2="1051.7" y2="790.3" stroke="#C81A0A" stroke-width="3.0"/>
<line x1="844.2" y1="477.3" x2="834.3" y2="478.8" stroke="#C81A0A" stroke-width="4.0"/><line x1="838.7" y1="488.7" x2="834.3" y2="478.8" stroke="#C81A0A" stroke-width="4.0"/>
<polygon points="842.0,466.5 846.6,471.1 838.8,478.8 846.6,486.5 842.0,491.1 834.3,483.3 826.6,491.1 822.0,486.5 829.8,478.8 822.0,471.1 826.6,466.5 834.3,474.3" fill="#C81E1E" stroke="#000" stroke-width="1.2"/>
</g>
<use href="#sc" x="253" y="267"/>
<use href="#sc" x="443" y="154"/>
<use href="#sc" x="623" y="149"/>
<use href="#sc" x="692" y="245"/>
<use href="#sc" x="727" y="328"/>
<use href="#sc" x="1184" y="2"/>
<use href="#sc" x="938" y="36"/>
<use href="#sc" x="1003" y="329"/>
<use href="#sc" x="193" y="422"/>
<use href="#sc" x="226" y="558"/>
<use href="#sc" x="513" y="358"/>
<use href="#sc" x="416" y="445"/>
<use href="#sc" x="498" y="490"/>
<use href="#sc" x="748" y="487"/>
<use href="#sc" x="417" y="542"/>
<use href="#sc" x="684" y="535"/>
<use href="#sc" x="678" y="585"/>
<use href="#sc" x="968" y="477"/>
<use href="#sc" x="997" y="602"/>
<use href="#sc" x="808" y="672"/>
<use href="#sc" x="183" y="703"/>
<use href="#sc" x="250" y="947"/>
<use href="#sc" x="2" y="1021"/>
<use href="#sc" x="455" y="691"/>
<use href="#sc" x="489" y="774"/>
<use href="#sc" x="567" y="876"/>
<use href="#sc" x="738" y="865"/>
<use href="#sc" x="943" y="757"/>
<use href="#tank" x="484" y="289"/>
<use href="#tank" x="159" y="366"/>
<use href="#tank" x="293" y="366"/>
<use href="#tank" x="312" y="471"/>
<use href="#tank" x="341" y="547"/>
<use href="#tank" x="221" y="597"/>
<use href="#tank" x="293" y="682"/>
<use href="#tank" x="546" y="462"/>
<use href="#tank" x="656" y="448"/>
<use href="#tank" x="504" y="517"/>
<use href="#tank" x="622" y="544"/>
<use href="#tank" x="523" y="571"/>
<use href="#tank" x="476" y="742"/>
<use href="#tank" x="868" y="347"/>
<use href="#tank" x="956" y="452"/>
<use href="#tank" x="858" y="557"/>
<use href="#tank" x="1021" y="577"/>
<use href="#tank" x="1006" y="657"/>
<rect x="663.5" y="503.5" width="24" height="22" fill="#C49085" stroke="#000" shape-rendering="crispEdges"/>
<use href="#tank" x="661" y="517"/>
<use href="#boom" x="689.4" y="516"/>
<rect x="640.5" y="80.5" width="24" height="22" fill="#A5C59B" stroke="#000" shape-rendering="crispEdges"/>
<use href="#ship" x="640" y="80"/>
<rect x="899.5" y="36.5" width="24" height="22" fill="#A5C59B" stroke="#000" shape-rendering="crispEdges"/>
<use href="#ship" x="899" y="36"/>
<rect x="251.5" y="476.5" width="24" height="22" fill="#A5C59B" stroke="#000" shape-rendering="crispEdges"/>
<use href="#ship" x="251" y="476"/>
<rect x="928.5" y="553.5" width="24" height="22" fill="#C49085" stroke="#000" shape-rendering="crispEdges"/>
<use href="#ship" x="928" y="553"/>
<rect x="1065.5" y="726.5" width="24" height="22" fill="#C49085" stroke="#000" shape-rendering="crispEdges"/>
<use href="#ship" x="1065" y="726"/>
<g shape-rendering="crispEdges"><line x1="1075.0" y1="750.5" x2="1110.0" y2="596.0" stroke="#C81A0A" stroke-width="3.4"/><line x1="1110.0" y1="596.0" x2="1114.9" y2="635.7" stroke="#C81A0A" stroke-width="2.6"/><line x1="1110.0" y1="596.0" x2="1087.2" y2="629.6" stroke="#C81A0A" stroke-width="2.6"/></g>
<rect x="1100.5" y="568.5" width="24" height="22" fill="#C49085" stroke="#000" shape-rendering="crispEdges"/>
<use href="#ship" x="1100" y="568"/>
<rect x="68.5" y="693.5" width="24" height="22" fill="#C49085" stroke="#000" shape-rendering="crispEdges"/>
<use href="#ship" x="68" y="693"/>
<use href="#boom" x="925.2" y="50"/>
<g class="t" filter="url(#crisp)">
<text x="406.0" y="37.0" textLength="68.1" lengthAdjust="spacingAndGlyphs">Polarmeer</text>
<text x="562.0" y="101.5" textLength="76.3" lengthAdjust="spacingAndGlyphs">Cobaltmeer</text>
<text x="74.0" y="136.5" textLength="97.1" lengthAdjust="spacingAndGlyphs">Nordwestmeer</text>
<text x="238.5" y="178.5" textLength="86.5" lengthAdjust="spacingAndGlyphs">Fungali-Meer</text>
<text x="1152.3" y="81.5" textLength="41.3" lengthAdjust="spacingAndGlyphs">Conno</text>
<text x="1029.0" y="115.5" textLength="86.4" lengthAdjust="spacingAndGlyphs">Nordostmeer</text>
<text x="821.0" y="88.5" textLength="45.3" lengthAdjust="spacingAndGlyphs">Elfland</text>
<text x="911.7" y="90.0" textLength="42.0" lengthAdjust="spacingAndGlyphs">Helom</text>
<text x="377.5" y="212.5" textLength="63.1" lengthAdjust="spacingAndGlyphs">Qualinost</text>
<text x="506.7" y="181.5" textLength="63.0" lengthAdjust="spacingAndGlyphs">Jadestadt</text>
<text x="647.7" y="182.5" textLength="124.6" lengthAdjust="spacingAndGlyphs">Schloss Gruenburg</text>
<text x="657.7" y="226.5" textLength="72.4" lengthAdjust="spacingAndGlyphs">Gruenheim</text>
<text x="445.0" y="252.5" textLength="62.8" lengthAdjust="spacingAndGlyphs">Jossangia</text>
<text x="871.0" y="238.0" textLength="20.4" lengthAdjust="spacingAndGlyphs">Eld</text>
<text x="1084.0" y="231.5" textLength="111.0" lengthAdjust="spacingAndGlyphs">Ozean von Doom</text>
<text x="299.5" y="305.0" textLength="54.8" lengthAdjust="spacingAndGlyphs">Candolti</text>
<text x="449.3" y="310.5" textLength="43.5" lengthAdjust="spacingAndGlyphs">Elchen</text>
<text x="784.0" y="279.5" textLength="71.5" lengthAdjust="spacingAndGlyphs">Caraveccia</text>
<text x="707.7" y="298.5" textLength="35.1" lengthAdjust="spacingAndGlyphs">Yokai</text>
<text x="571.7" y="335.5" textLength="27.5" lengthAdjust="spacingAndGlyphs">Nari</text>
<text x="871.7" y="324.5" textLength="28.8" lengthAdjust="spacingAndGlyphs">Utar</text>
<text x="966.7" y="326.5" textLength="30.9" lengthAdjust="spacingAndGlyphs">Kath</text>
<text x="110.0" y="327.0" textLength="54.8" lengthAdjust="spacingAndGlyphs">Golf von</text>
<text x="110.0" y="341.0" textLength="44.5" lengthAdjust="spacingAndGlyphs">Gawan</text>
<text x="396.0" y="364.5" textLength="18.4" lengthAdjust="spacingAndGlyphs">Tel</text>
<text x="572.3" y="374.5" textLength="21.7" lengthAdjust="spacingAndGlyphs">Olk</text>
<text x="1013.3" y="376.0" textLength="76.7" lengthAdjust="spacingAndGlyphs">Riesenheim</text>
<text x="1131.0" y="384.5" textLength="97.0" lengthAdjust="spacingAndGlyphs">Kamalastrasse</text>
<text x="30.0" y="374.5" textLength="41.5" lengthAdjust="spacingAndGlyphs">Kaltes</text>
<text x="30.0" y="388.5" textLength="33.3" lengthAdjust="spacingAndGlyphs">Meer</text>
<text x="768.3" y="393.5" textLength="42.0" lengthAdjust="spacingAndGlyphs">Amphi</text>
<text x="181.0" y="401.0" textLength="42.0" lengthAdjust="spacingAndGlyphs">Gawar</text>
<text x="234.3" y="393.5" textLength="51.6" lengthAdjust="spacingAndGlyphs">Gorkion</text>
<text x="234.3" y="407.5" textLength="33.8" lengthAdjust="spacingAndGlyphs">delta</text>
<text x="93.3" y="411.0" textLength="33.3" lengthAdjust="spacingAndGlyphs">Meer</text>
<text x="93.3" y="424.5" textLength="52.7" lengthAdjust="spacingAndGlyphs">von Uuz</text>
<text x="322.7" y="419.5" textLength="48.3" lengthAdjust="spacingAndGlyphs">Gurand</text>
<text x="440.0" y="415.5" textLength="106.0" lengthAdjust="spacingAndGlyphs">Land der Wiesel</text>
<text x="700.7" y="414.5" textLength="30.5" lengthAdjust="spacingAndGlyphs">Hugl</text>
<text x="860.0" y="413.0" textLength="63.8" lengthAdjust="spacingAndGlyphs">Smaragd-</text>
<text x="861.7" y="426.5" textLength="38.1" lengthAdjust="spacingAndGlyphs">Bucht</text>
<text x="953.3" y="422.5" textLength="43.4" lengthAdjust="spacingAndGlyphs">Bridon</text>
<text x="778.0" y="431.0" textLength="71.6" lengthAdjust="spacingAndGlyphs">Esmaladan</text>
<text x="495.3" y="460.5" textLength="67.5" lengthAdjust="spacingAndGlyphs">Norterend</text>
<text x="617.7" y="462.5" textLength="45.2" lengthAdjust="spacingAndGlyphs">Wildall</text>
<text x="160.0" y="483.0" textLength="48.2" lengthAdjust="spacingAndGlyphs">Heronn</text>
<text x="1139.0" y="490.5" textLength="41.2" lengthAdjust="spacingAndGlyphs">Teisee</text>
<text x="559.3" y="498.5" textLength="22.0" lengthAdjust="spacingAndGlyphs">Skr</text>
<text x="643.3" y="499.5" textLength="53.0" lengthAdjust="spacingAndGlyphs">Ostberg</text>
<text x="787.0" y="505.5" textLength="41.3" lengthAdjust="spacingAndGlyphs">Mellar</text>
<text x="366.0" y="508.5" textLength="98.2" lengthAdjust="spacingAndGlyphs">Saphirschlucht</text>
<text x="932.3" y="512.0" textLength="38.1" lengthAdjust="spacingAndGlyphs">Bucht</text>
<text x="932.3" y="525.5" textLength="23.3" lengthAdjust="spacingAndGlyphs">des</text>
<text x="932.3" y="540.5" textLength="45.7" lengthAdjust="spacingAndGlyphs">Ostens</text>
<text x="275.0" y="528.0" textLength="43.6" lengthAdjust="spacingAndGlyphs">Mittel-</text>
<text x="275.0" y="541.5" textLength="50.3" lengthAdjust="spacingAndGlyphs">gorkion</text>
<text x="1024.0" y="538.0" textLength="33.2" lengthAdjust="spacingAndGlyphs">Bynn</text>
<text x="1029.0" y="567.5" textLength="40.6" lengthAdjust="spacingAndGlyphs">Gwaul</text>
<text x="537.3" y="547.5" textLength="63.4" lengthAdjust="spacingAndGlyphs">Westberg</text>
<text x="835.5" y="544.5" textLength="86.3" lengthAdjust="spacingAndGlyphs">Obstschlucht</text>
<text x="175.0" y="554.5" textLength="43.0" lengthAdjust="spacingAndGlyphs">Korbia</text>
<text x="638.3" y="579.0" textLength="24.7" lengthAdjust="spacingAndGlyphs">Eun</text>
<text x="710.0" y="579.5" textLength="33.5" lengthAdjust="spacingAndGlyphs">Sund</text>
<text x="493.3" y="583.5" textLength="28.8" lengthAdjust="spacingAndGlyphs">Hills</text>
<text x="364.3" y="578.5" textLength="38.0" lengthAdjust="spacingAndGlyphs">Nabai</text>
<text x="435.0" y="594.5" textLength="34.0" lengthAdjust="spacingAndGlyphs">Nogk</text>
<text x="58.3" y="601.5" textLength="64.3" lengthAdjust="spacingAndGlyphs">Borkmeer</text>
<text x="1105.7" y="616.0" textLength="49.2" lengthAdjust="spacingAndGlyphs">Kupfer-</text>
<text x="1105.7" y="630.0" textLength="37.7" lengthAdjust="spacingAndGlyphs">Küste</text>
<text x="496.0" y="630.5" textLength="29.4" lengthAdjust="spacingAndGlyphs">Urur</text>
<text x="777.0" y="634.5" textLength="62.9" lengthAdjust="spacingAndGlyphs">Feuerfeld</text>
<text x="242.3" y="633.5" textLength="46.7" lengthAdjust="spacingAndGlyphs">Arkoon</text>
<text x="335.7" y="633.5" textLength="60.2" lengthAdjust="spacingAndGlyphs">Rotbucht</text>
<text x="965.0" y="638.5" textLength="60.7" lengthAdjust="spacingAndGlyphs">Rodesion</text>
<text x="965.0" y="652.5" textLength="35.1" lengthAdjust="spacingAndGlyphs">Delta</text>
<text x="427.3" y="652.5" textLength="46.7" lengthAdjust="spacingAndGlyphs">Barana</text>
<text x="181.7" y="663.5" textLength="71.1" lengthAdjust="spacingAndGlyphs">Verlorenes</text>
<text x="181.7" y="677.0" textLength="32.1" lengthAdjust="spacingAndGlyphs">Land</text>
<text x="524.3" y="677.0" textLength="89.9" lengthAdjust="spacingAndGlyphs">Chapablublek</text>
<text x="701.0" y="682.5" textLength="59.4" lengthAdjust="spacingAndGlyphs">Neu Rom</text>
<text x="1020.0" y="687.5" textLength="26.7" lengthAdjust="spacingAndGlyphs">Pirh</text>
<text x="1172.7" y="698.5" textLength="33.6" lengthAdjust="spacingAndGlyphs">Altes</text>
<text x="1172.7" y="712.5" textLength="33.3" lengthAdjust="spacingAndGlyphs">Meer</text>
<text x="888.3" y="703.0" textLength="36.1" lengthAdjust="spacingAndGlyphs">Orlon</text>
<text x="326.7" y="728.5" textLength="54.7" lengthAdjust="spacingAndGlyphs">Charaua</text>
<text x="456.7" y="732.5" textLength="28.8" lengthAdjust="spacingAndGlyphs">Qwil</text>
<text x="80.0" y="749.5" textLength="80.2" lengthAdjust="spacingAndGlyphs">Doringkanal</text>
<text x="576.0" y="753.5" textLength="46.1" lengthAdjust="spacingAndGlyphs">Nilldall</text>
<text x="659.3" y="768.0" textLength="71.8" lengthAdjust="spacingAndGlyphs">Kaaldewaa</text>
<text x="257.7" y="768.5" textLength="91.3" lengthAdjust="spacingAndGlyphs">Kentommenai</text>
<text x="1084.0" y="778.5" textLength="85.6" lengthAdjust="spacingAndGlyphs">Golf von Pirh</text>
<text x="885.0" y="798.5" textLength="53.7" lengthAdjust="spacingAndGlyphs">Losteria</text>
<text x="418.0" y="804.5" textLength="55.2" lengthAdjust="spacingAndGlyphs">Sottovia</text>
<text x="506.7" y="826.5" textLength="55.1" lengthAdjust="spacingAndGlyphs">Rotheim</text>
<text x="679.0" y="828.5" textLength="96.3" lengthAdjust="spacingAndGlyphs">Mouchimoglou</text>
<text x="341.7" y="853.5" textLength="32.9" lengthAdjust="spacingAndGlyphs">Ailea</text>
<text x="802.0" y="862.5" textLength="53.8" lengthAdjust="spacingAndGlyphs">Samyria</text>
<text x="446.0" y="872.5" textLength="90.1" lengthAdjust="spacingAndGlyphs">Zinnoberburg</text>
<text x="145.0" y="876.5" textLength="91.8" lengthAdjust="spacingAndGlyphs">Golf von Ailea</text>
<text x="690.0" y="891.5" textLength="81.7" lengthAdjust="spacingAndGlyphs">Karminstadt</text>
<text x="837.0" y="944.0" textLength="110.9" lengthAdjust="spacingAndGlyphs">Froidevaux-Meer</text>
<text x="165.7" y="942.0" textLength="98.2" lengthAdjust="spacingAndGlyphs">Suedwestmeer</text>
<text x="516.7" y="962.0" textLength="72.8" lengthAdjust="spacingAndGlyphs">Lithiumsee</text>
<text x="288.3" y="993.5" textLength="42.0" lengthAdjust="spacingAndGlyphs">Abaun</text>
<text x="370.0" y="994.5" textLength="56.5" lengthAdjust="spacingAndGlyphs">Ornheim</text>
<text x="1080.7" y="1000.5" textLength="87.5" lengthAdjust="spacingAndGlyphs">Suedostmeer</text>
<text x="571.7" y="1013.5" textLength="59.0" lengthAdjust="spacingAndGlyphs">Daxmeer</text>
<text x="50.7" y="1018.0" textLength="40.2" lengthAdjust="spacingAndGlyphs">Corws</text>
<text class="s" x="147.7" y="423.0" textLength="24.5" lengthAdjust="spacingAndGlyphs">(wc)</text>
<text class="s" x="210.0" y="483.0" textLength="21.5" lengthAdjust="spacingAndGlyphs">(ec)</text>
<text class="s" x="225.0" y="535.0" textLength="21.5" lengthAdjust="spacingAndGlyphs">(ec)</text>
<text class="s" x="139.3" y="578.0" textLength="24.5" lengthAdjust="spacingAndGlyphs">(wc)</text>
<text class="s" x="1060.7" y="468.0" textLength="21.5" lengthAdjust="spacingAndGlyphs">(ec)</text>
<text class="s" x="987.3" y="541.0" textLength="24.5" lengthAdjust="spacingAndGlyphs">(wc)</text>
<text class="s" x="1000.0" y="589.0" textLength="24.5" lengthAdjust="spacingAndGlyphs">(wc)</text>
<text class="s" x="1050.7" y="625.0" textLength="21.5" lengthAdjust="spacingAndGlyphs">(ec)</text>
</g>
</svg></body></html>
